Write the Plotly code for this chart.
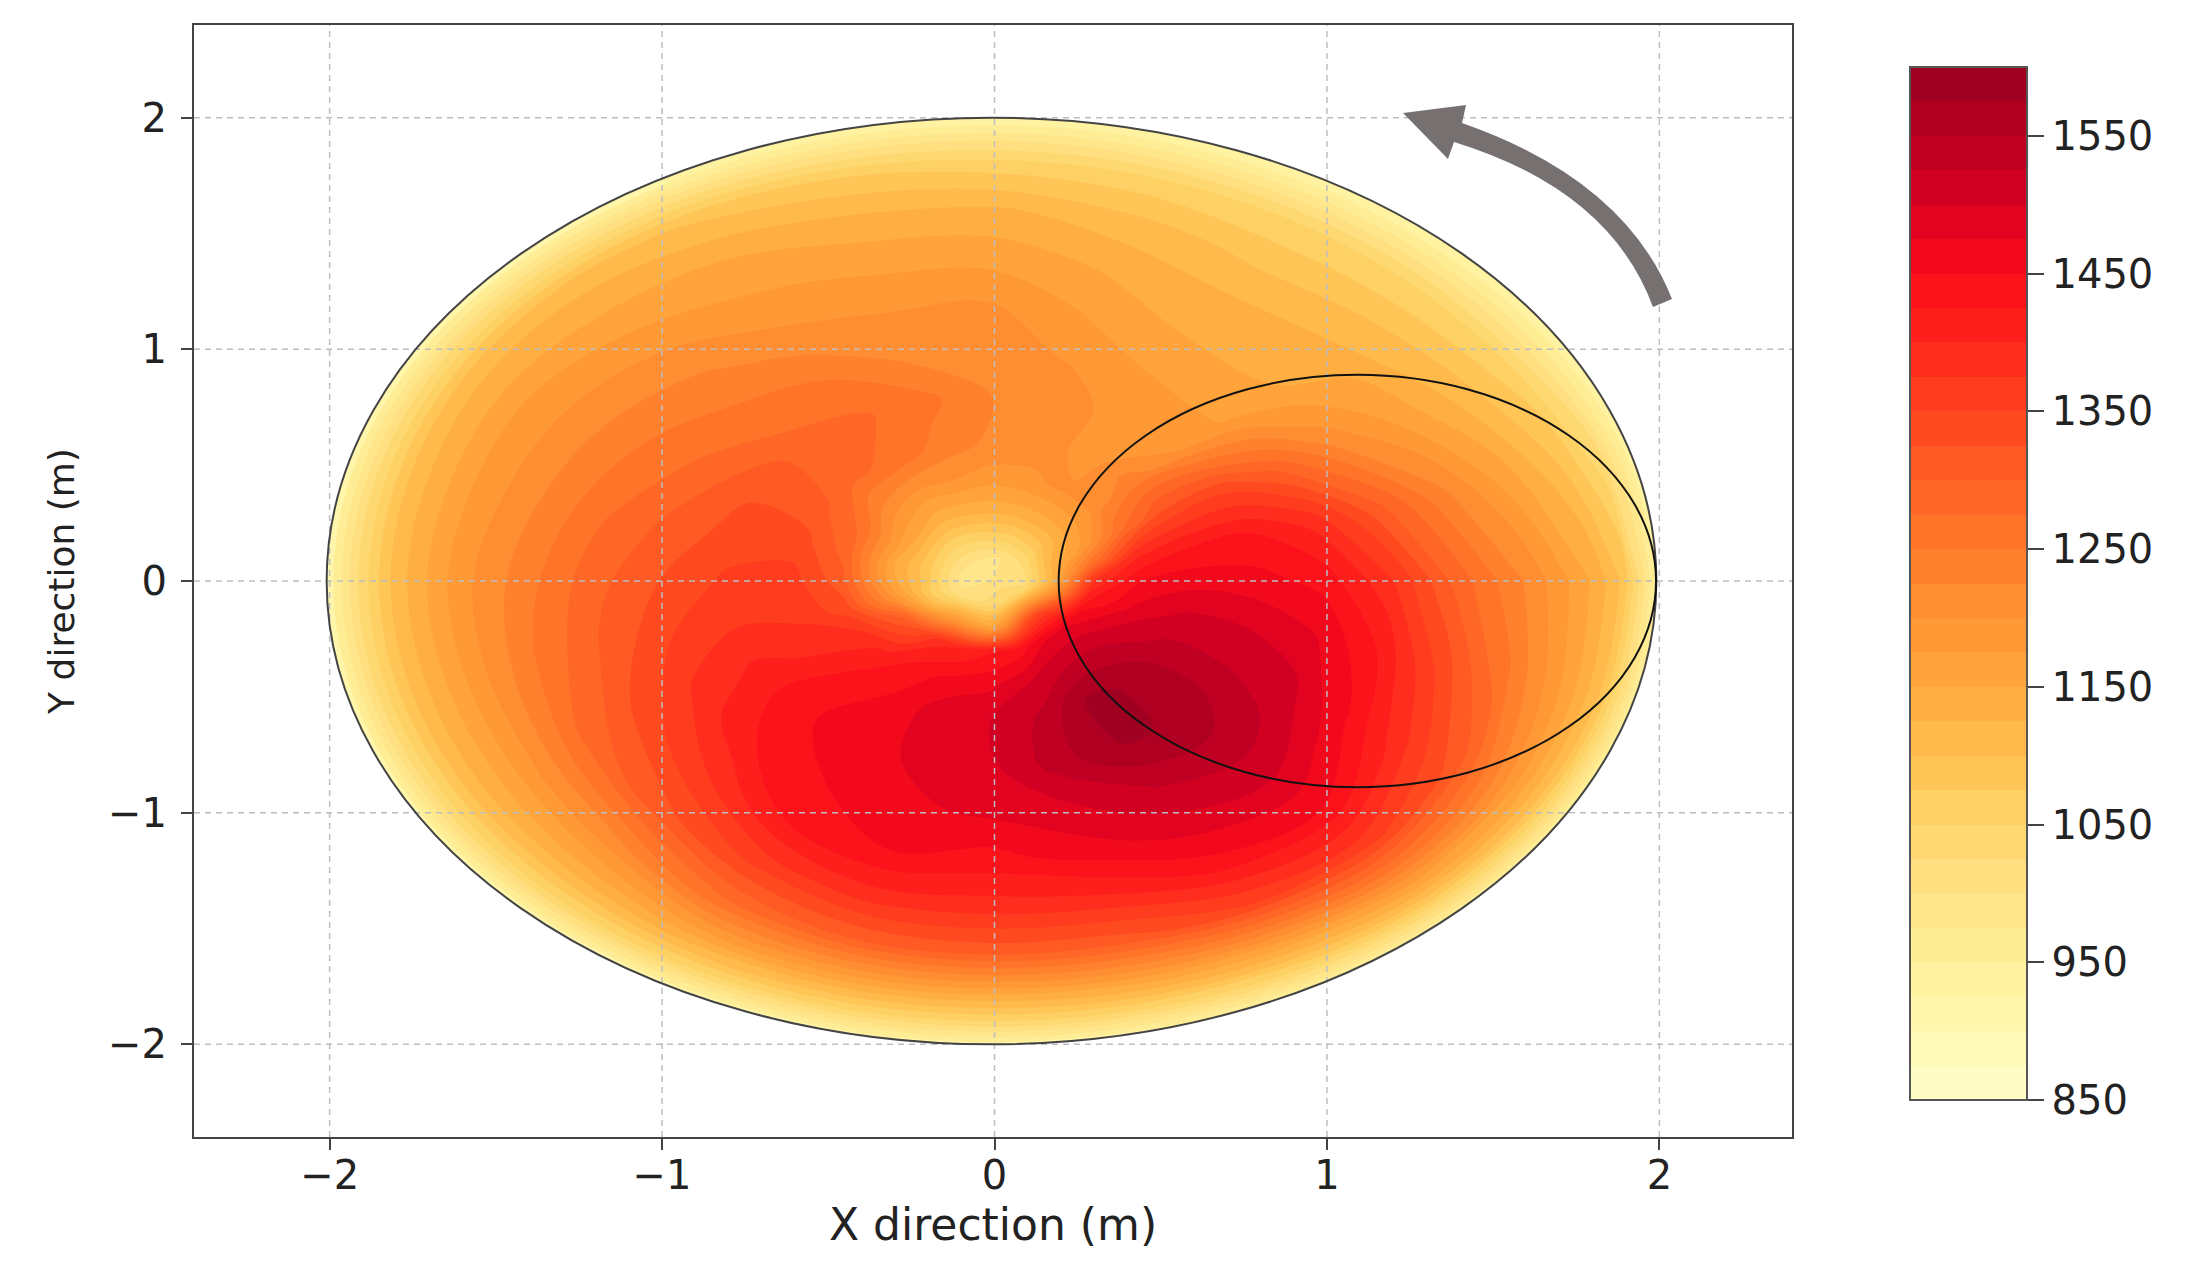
import numpy as np
import plotly.graph_objects as go

theta_deg = [0, 15, 30, 45, 60, 75, 90, 105, 120, 135, 150, 165, 180, 195, 210, 225, 240, 255, 270, 285, 300, 315, 330, 345]
radii = [0.0, 0.1, 0.2, 0.3, 0.45, 0.6, 0.8, 1.0, 1.2, 1.4, 1.6, 1.8, 1.9, 2.0]

t_r000 = [1000] * 24
t_r010 = [1020,1020,1015,1010,1005,1000,1000,1000,1000,1000,1000,1000,1000,1000,1005,1015,1025,1030,1040,1045,1055,1060,1050,1030]
t_r020 = [1150,1140,1120,1090,1080,1070,1070,1065,1065,1070,1080,1085,1090,1085,1110,1170,1190,1180,1160,1230,1320,1350,1300,1220]
t_r030 = [1370,1250,1170,1150,1140,1135,1130,1130,1130,1150,1160,1150,1160,1200,1290,1330,1390,1400,1420,1430,1470,1480,1460,1420]
t_r045 = [1450,1390,1270,1215,1205,1195,1190,1200,1200,1220,1270,1290,1310,1335,1380,1410,1440,1460,1470,1500,1530,1535,1515,1480]
t_r060 = [1465,1420,1330,1240,1190,1210,1220,1240,1270,1280,1310,1340,1360,1370,1395,1435,1455,1490,1500,1530,1582,1570,1535,1505]
t_r080 = [1460,1425,1340,1200,1185,1215,1225,1260,1280,1290,1320,1335,1355,1375,1410,1445,1465,1480,1495,1540,1578,1572,1530,1500]
t_r100 = [1440,1390,1285,1170,1175,1195,1212,1220,1250,1260,1280,1305,1325,1350,1385,1425,1450,1470,1480,1500,1530,1540,1515,1480]
t_r120 = [1380,1310,1215,1150,1150,1170,1200,1200,1210,1235,1250,1270,1290,1305,1335,1375,1430,1450,1440,1465,1490,1500,1460,1425]
t_r140 = [1290,1235,1170,1135,1130,1145,1165,1170,1180,1200,1215,1225,1240,1255,1280,1315,1360,1390,1390,1400,1440,1450,1390,1340]
t_r160 = [1225,1170,1120,1100,1095,1110,1130,1135,1150,1160,1175,1180,1190,1190,1195,1215,1270,1300,1310,1315,1350,1360,1315,1255]
t_r180 = [1150,1095,1060,1050,1050,1055,1060,1075,1095,1110,1110,1105,1105,1105,1110,1115,1130,1135,1135,1145,1160,1190,1180,1160]
t_r190 = [1095,1040,1000,990,990,995,1000,1005,1020,1025,1030,1030,1030,1035,1040,1045,1050,1050,1050,1055,1070,1090,1095,1095]
t_r200 = [950,935,930,925,925,925,925,925,925,930,930,930,930,932,935,935,935,938,940,945,955,960,955,955]

table = [t_r000, t_r010, t_r020, t_r030, t_r045, t_r060, t_r080, t_r100, t_r120, t_r140, t_r160, t_r180, t_r190, t_r200]
xticks = [-2, -1, 0, 1, 2]
yticks = [-2, -1, 0, 1, 2]
cb_ticks = [850, 950, 1050, 1150, 1250, 1350, 1450, 1550]
band_values = [850, 900, 950, 1000, 1050, 1100, 1150, 1200, 1250, 1300, 1350, 1400, 1450, 1500, 1550, 1600]
band_colors = ["#ffffcc", "#fff8b0", "#fff09a", "#ffe286", "#fed66a", "#ffc050", "#ffa83c", "#ff9434",
               "#ff7a2a", "#ff6026", "#ff431e", "#ff251c", "#fa0c1a", "#da0022", "#b60022", "#990020"]

# closes the disc by repeating the first angle
b_deg = np.array(theta_deg + [360.0])
a_r = np.array(radii)
z = np.array(table, float)
z = np.hstack([z, z[:, :1]]).T          # rows = angle, columns = radius
A, B = np.meshgrid(a_r, np.radians(b_deg))
X, Y = A * np.cos(B) - 0.009, A * np.sin(B)

scale = [[(v - 850) / 750, c] for v, c in zip(band_values, band_colors)]

L, R, T, B_ = 194, 1792, 25, 1137
def px(x, y):
    return (x - L) / (R - L), (B_ - y) / (B_ - T)

def P(x, y):
    a, b = px(x, y)
    return f"{a:.4f},{b:.4f}"

fig = go.Figure()
axis_off = dict(showgrid=False, showline=False, showticklabels="none", startline=False, endline=False,
                minorgridcount=0, smoothing=1)
fig.add_trace(go.Carpet(carpet="disc", a=a_r, b=b_deg, x=X, y=Y, aaxis=axis_off, baxis=axis_off))
fig.add_trace(go.Contourcarpet(
    carpet="disc", a=a_r, b=b_deg, z=z, colorscale=scale, zmin=850, zmax=1600,
    autocontour=False, contours=dict(start=850, end=1600, size=25, coloring="fill", showlines=False),
    line=dict(width=0),
    colorbar=dict(x=(1910 - L) / (R - L), xanchor="left", y=(B_ - 1100) / (B_ - T), yanchor="bottom",
                  len=(1100 - 67) / (B_ - T), thickness=117, xpad=0, ypad=0,
                  outlinecolor="#555", outlinewidth=2,
                  tickmode="array", tickvals=cb_ticks, ticks="outside", ticklen=16, tickwidth=2, tickcolor="#444",
                  tickfont=dict(family="DejaVu Sans", size=40, color="#222")),
))

font = dict(family="DejaVu Sans", size=40, color="#222")
grid = dict(type="line", layer="above", line=dict(color="#bdbdc2", width=1.5, dash="6px,5px"))
shapes = []
for v in xticks:
    shapes.append(dict(grid, xref="x", x0=v, x1=v, yref="paper", y0=0, y1=1))
for v in yticks:
    shapes.append(dict(grid, yref="y", y0=v, y1=v, xref="paper", x0=0, x1=1))
shapes.append(dict(type="circle", xref="x", yref="y", x0=-2.009, x1=1.991, y0=-2, y1=2,
                   layer="above", line=dict(color="#444", width=2)))
shapes.append(dict(type="circle", xref="x", yref="y", x0=0.193, x1=1.99, y0=-0.89, y1=0.89,
                   layer="above", line=dict(color="#111", width=2)))
arrow = ("M" + P(1653, 307) + " Q" + P(1610, 190) + " " + P(1454, 142) + " L" + P(1448, 159) + " L" + P(1403, 113)
         + " L" + P(1466, 105) + " L" + P(1462, 123) + " Q" + P(1625, 180) + " " + P(1672, 299) + " Z")
shapes.append(dict(type="path", xref="paper", yref="paper", path=arrow, layer="above",
                   fillcolor="#767070", line=dict(width=0)))

common = dict(showgrid=False, zeroline=False, showline=True, mirror=True, linecolor="#444", linewidth=2,
              ticks="outside", ticklen=11, tickwidth=2, tickcolor="#444", tickfont=font)
fig.update_layout(
    width=2192, height=1261, autosize=False, paper_bgcolor="white", plot_bgcolor="white",
    margin=dict(l=L, r=2192 - R, t=T, b=1261 - B_), showlegend=False, shapes=shapes,
    xaxis=dict(common, range=[-2.408, 2.399], tickvals=xticks, ticklabelstandoff=-9,
               title=dict(text="X direction (m)", font=dict(family="DejaVu Sans", size=44, color="#222"), standoff=12)),
    yaxis=dict(common, range=[-2.4, 2.4], tickvals=yticks, ticklabelstandoff=6,
               title=dict(text="Y direction (m)", font=dict(family="DejaVu Sans", size=36, color="#222"), standoff=22)),
)
fig.write_html("out.html", config={"displayModeBar": False},
               post_script="document.body.style.margin='0';document.body.style.overflow='hidden';")
